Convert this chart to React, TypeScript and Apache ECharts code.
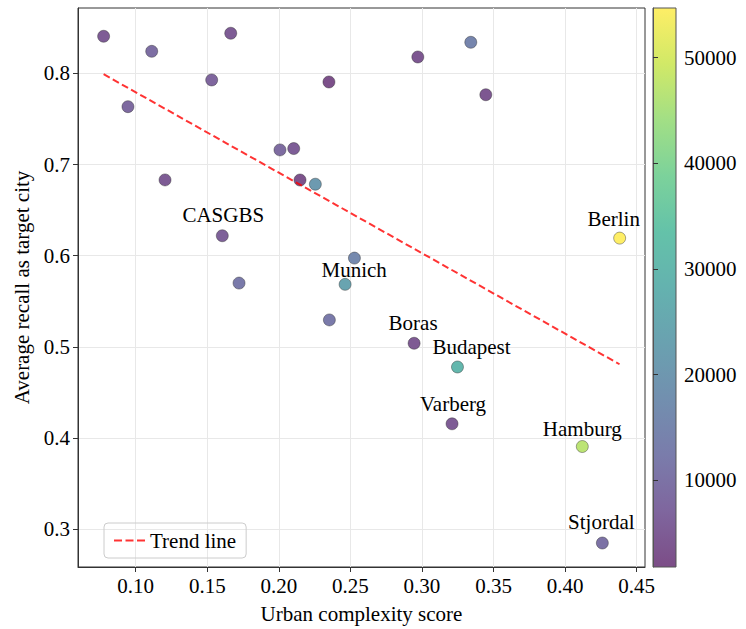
import React, { useEffect, useRef } from "react";
import * as echarts from "echarts";

const cityNames = [
  "", "", "", "", "", "", "", "", "", "", "", "CASGBS", "", "", "Munich", "", "", "", "",
  "Berlin", "Boras", "Budapest", "Varberg", "Hamburg", "Stjordal",
];
const complexityScores = [
  0.0776, 0.1112, 0.1664, 0.1531, 0.235, 0.0946, 0.2008, 0.2104, 0.1205, 0.2148, 0.2255,
  0.1605, 0.1722, 0.2528, 0.2463, 0.2353, 0.2971, 0.3341, 0.3446,
  0.4381, 0.2945, 0.3248, 0.321, 0.412, 0.426,
];
const recallValues = [
  0.8406, 0.8241, 0.8439, 0.7927, 0.7905, 0.7634, 0.716, 0.7175, 0.6831, 0.683, 0.6784,
  0.6219, 0.57, 0.5974, 0.5686, 0.5296, 0.8179, 0.834, 0.7765,
  0.6193, 0.504, 0.478, 0.4157, 0.3908, 0.285,
];
const colorValues = [
  5000, 9000, 5000, 7000, 2500, 8000, 8500, 5500, 5000, 3000, 21000,
  6000, 12000, 16000, 24000, 12000, 4000, 15000, 4000,
  54700, 4500, 30000, 5000, 47000, 10000,
];
const trendX = [0.0776, 0.438];
const trendY = [0.799, 0.481];
const xTicks = [0.1, 0.15, 0.2, 0.25, 0.3, 0.35, 0.4, 0.45];
const yTicks = [0.3, 0.4, 0.5, 0.6, 0.7, 0.8];
const colorTicks = [10000, 20000, 30000, 40000, 50000];
const colorMin = 1800;
const colorMax = 54700;

// viridis blended with white at alpha 0.7
const viridisAlpha = [
  "#7c4d87", "#7f669e", "#7a7cab", "#728faf", "#6aa1b0", "#64b2af",
  "#64c2a9", "#7cd29b", "#a2df85", "#d1e967", "#feee66",
];

const labelOffsets: Record<string, [number, number]> = {
  CASGBS: [1, -21],
  Munich: [9, -14],
  Berlin: [-6, -19],
  Boras: [-1, -20],
  Budapest: [14, -20],
  Varberg: [1, -20],
  Hamburg: [0, -18],
  Stjordal: [-1, -21],
};

const FONT = "'Liberation Serif', 'Times New Roman', serif";
const TREND_COLOR = "rgba(255,0,0,0.8)";

export default function App() {
  const ref = useRef<HTMLDivElement>(null);
  useEffect(() => {
    if (!ref.current) return;
    const chart = echarts.init(ref.current, undefined, { renderer: "svg" });
    const scatterData = complexityScores.map((x, i) => {
      const name = cityNames[i];
      const item: any = { value: [x, recallValues[i], colorValues[i]], name };
      if (name) {
        item.label = {
          show: true,
          position: "inside",
          offset: labelOffsets[name],
          formatter: name,
          color: "#000",
          fontSize: 21,
          fontFamily: FONT,
        };
      }
      return item;
    });
    const n = viridisAlpha.length;
    chart.setOption({
      animation: false,
      textStyle: { fontFamily: FONT },
      grid: [
        {
          left: 78, top: 8, right: 101, bottom: 62,
          show: true, borderColor: "#333", borderWidth: 1, backgroundColor: "transparent",
        },
        {
          left: 653, top: 8, width: 23, height: 559,
          show: true, borderColor: "#555", borderWidth: 1,
          backgroundColor: new echarts.graphic.LinearGradient(
            0, 1, 0, 0,
            viridisAlpha.map((c, i) => ({ offset: i / (n - 1), color: c }))
          ),
        },
      ],
      xAxis: [
        {
          type: "value", gridIndex: 0, min: 0.0597, max: 0.4558, interval: 0.05,
          name: "Urban complexity score", nameLocation: "middle", nameGap: 36,
          nameTextStyle: { fontSize: 21, color: "#000", fontFamily: FONT },
          axisLine: { show: true, lineStyle: { color: "#333" } },
          axisTick: { show: true, length: 5, lineStyle: { color: "#333" }, customValues: xTicks },
          axisLabel: {
            customValues: xTicks, fontSize: 21, color: "#000", margin: 8, fontFamily: FONT,
            formatter: (v: number) => v.toFixed(2),
          },
          splitLine: { show: true, lineStyle: { color: "#e8e8e8", width: 1 } },
        },
        { type: "value", gridIndex: 1, show: false, min: 0, max: 1 },
      ],
      yAxis: [
        {
          type: "value", gridIndex: 0, min: 0.2587, max: 0.8716, interval: 0.1,
          name: "Average recall as target city", nameLocation: "middle", nameGap: 35,
          nameTextStyle: { fontSize: 21, color: "#000", fontFamily: FONT },
          axisLine: { show: true, lineStyle: { color: "#333" } },
          axisTick: { show: true, length: 5, lineStyle: { color: "#333" }, customValues: yTicks },
          axisLabel: {
            customValues: yTicks, fontSize: 21, color: "#000", margin: 8, fontFamily: FONT,
            formatter: (v: number) => v.toFixed(1),
          },
          splitLine: { show: true, lineStyle: { color: "#e8e8e8", width: 1 } },
        },
        {
          type: "value", gridIndex: 1, position: "right", min: colorMin, max: colorMax,
          axisLine: { show: true, lineStyle: { color: "#555" } },
          axisTick: { show: true, length: 5, lineStyle: { color: "#333" }, customValues: colorTicks },
          axisLabel: {
            customValues: colorTicks, fontSize: 21, color: "#000", margin: 8, fontFamily: FONT,
            formatter: (v: number) => String(v),
          },
          splitLine: { show: false },
        },
      ],
      visualMap: {
        show: false, type: "continuous", min: colorMin, max: colorMax, dimension: 2,
        seriesIndex: 0, inRange: { color: viridisAlpha },
      },
      legend: {
        left: 104, top: 523, padding: [7, 10, 7, 10],
        borderColor: "#cccccc", borderWidth: 1, borderRadius: 4,
        itemWidth: 31, itemHeight: 14, itemGap: 8,
        data: [
          {
            name: "Trend line",
            icon: "path://M0,0h8v2.2h-8zM11.5,0h8v2.2h-8zM23,0h8v2.2h-8z",
            itemStyle: { color: TREND_COLOR },
          },
        ],
        textStyle: { fontSize: 21, color: "#000", fontFamily: FONT },
      },
      series: [
        {
          type: "scatter", name: "Cities", xAxisIndex: 0, yAxisIndex: 0,
          symbolSize: 12,
          itemStyle: { borderColor: "rgba(40,40,40,0.6)", borderWidth: 0.7, opacity: 1 },
          data: scatterData,
          z: 2,
        },
        {
          type: "line", name: "Trend line", xAxisIndex: 0, yAxisIndex: 0,
          symbol: "none",
          data: trendX.map((x, i) => [x, trendY[i]]),
          lineStyle: { color: TREND_COLOR, width: 2, type: [7, 3.5] },
          itemStyle: { color: TREND_COLOR },
          z: 3,
        },
      ],
    });
    return () => chart.dispose();
  }, []);
  return <div ref={ref} style={{ width: 746, height: 629, position: "absolute", left: 0, top: 0 }} />;
}
